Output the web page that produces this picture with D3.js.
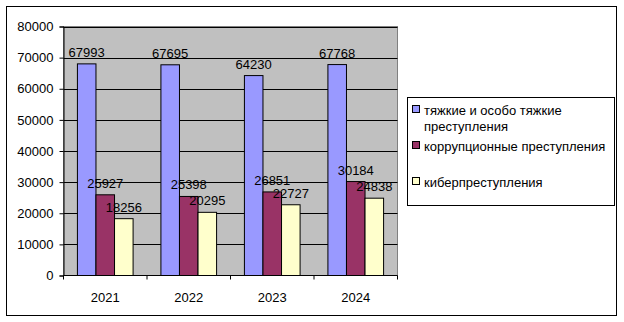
<!DOCTYPE html>
<html>
<head>
<meta charset="utf-8">
<script src="https://cdn.jsdelivr.net/npm/d3@7"></script>
<style>
  body { margin: 0; background: #fff; }
  text { font-family: "Liberation Sans", Arial, sans-serif; font-size: 13px; fill: #000; }
</style>
</head>
<body>
<svg id="chart" width="624" height="322"></svg>
<script>
// data
const years = ["2021", "2022", "2023", "2024"];
const seriesNames = ["тяжкие и особо тяжкие преступления", "коррупционные преступления", "киберпреступления"];
const heavyCrimes = [67993, 67695, 64230, 67768];
const corruption = [25927, 25398, 26851, 30184];
const cyber = [18256, 20295, 22727, 24838];
const yTicks = [0, 10000, 20000, 30000, 40000, 50000, 60000, 70000, 80000];
const colors = ["#9999ff", "#993366", "#ffffcc"];

function draw() {
    const svg = d3.select("#chart");
    const series = [heavyCrimes, corruption, cyber];

    // outer frame
    svg.append("rect")
        .attr("x", 6.5).attr("y", 6.5)
        .attr("width", 610).attr("height", 309)
        .attr("fill", "#fff").attr("stroke", "#000");

    const left = 63.5, right = 397.5, top = 26.5, bottom = 275.5;

    const x = d3.scaleBand().domain(years).range([left, right]);
    const inner = d3.scaleBand().domain([0, 1, 2])
        .range([0, x.bandwidth()]).paddingInner(0).paddingOuter(0.75);
    const y = d3.scaleLinear().domain([0, 80000]).range([bottom, top]);

    // plot area
    svg.append("rect")
        .attr("x", left).attr("y", top)
        .attr("width", right - left).attr("height", bottom - top)
        .attr("fill", "#c0c0c0").attr("stroke", "#808080");

    // gridlines
    svg.append("g").selectAll("line")
        .data(yTicks.filter(d => d > 0))
        .join("line")
        .attr("x1", left).attr("x2", right)
        .attr("y1", d => Math.round(y(d)) + 0.5).attr("y2", d => Math.round(y(d)) + 0.5)
        .attr("stroke", "#000");

    // y axis
    const yAxis = svg.append("g")
        .attr("transform", "translate(" + left + ",0)")
        .call(d3.axisLeft(y).tickValues(yTicks).tickSize(4).tickPadding(6).tickFormat(d3.format("d")));
    yAxis.select(".domain").attr("stroke", "#000");
    yAxis.selectAll("text").style("font-family", "Liberation Sans, Arial, sans-serif").style("font-size", "13px");

    // bars
    const groups = svg.append("g").selectAll("g")
        .data(years)
        .join("g")
        .attr("transform", d => "translate(" + x(d) + ",0)");

    groups.selectAll("rect")
        .data((d, i) => series.map((s, k) => ({ k: k, v: s[i] })))
        .join("rect")
        .attr("x", d => inner(d.k))
        .attr("y", d => y(d.v))
        .attr("width", inner.bandwidth())
        .attr("height", d => bottom - y(d.v))
        .attr("fill", d => colors[d.k])
        .attr("stroke", "#000");

    // value labels
    groups.selectAll("text")
        .data((d, i) => series.map((s, k) => ({ k: k, v: s[i] })))
        .join("text")
        .attr("x", d => inner(d.k) + inner.bandwidth() / 2)
        .attr("y", d => y(d.v) - 7)
        .attr("text-anchor", "middle")
        .text(d => d.v);

    // x axis
    const xAxis = svg.append("g")
        .attr("transform", "translate(0," + bottom + ")");
    xAxis.append("line")
        .attr("x1", left).attr("x2", right)
        .attr("stroke", "#000");
    xAxis.selectAll(".tick")
        .data(years.concat(["end"]))
        .join("line")
        .attr("x1", (d, i) => i < years.length ? x(d) : right)
        .attr("x2", (d, i) => i < years.length ? x(d) : right)
        .attr("y1", 0).attr("y2", 4)
        .attr("stroke", "#000");
    xAxis.selectAll("text")
        .data(years)
        .join("text")
        .attr("x", d => x(d) + x.bandwidth() / 2)
        .attr("y", 26)
        .attr("text-anchor", "middle")
        .text(d => d);

    // legend
    const legend = svg.append("g");
    legend.append("rect")
        .attr("x", 407.5).attr("y", 97.5)
        .attr("width", 207).attr("height", 108)
        .attr("fill", "#fff").attr("stroke", "#000");

    const legendRows = [
        { lines: ["тяжкие и особо тяжкие", "преступления"], y: 110 },
        { lines: [seriesNames[1]], y: 146 },
        { lines: [seriesNames[2]], y: 182 }
    ];
    legendRows.forEach((row, k) => {
        legend.append("rect")
            .attr("x", 412.5).attr("y", row.y - 4.5)
            .attr("width", 7).attr("height", 7)
            .attr("fill", colors[k]).attr("stroke", "#000");
        row.lines.forEach((line, j) => {
            legend.append("text")
                .attr("x", 424)
                .attr("y", row.y + 5 + j * 16)
                .text(line);
        });
    });
}

window.onload = draw;
</script>
</body>
</html>
